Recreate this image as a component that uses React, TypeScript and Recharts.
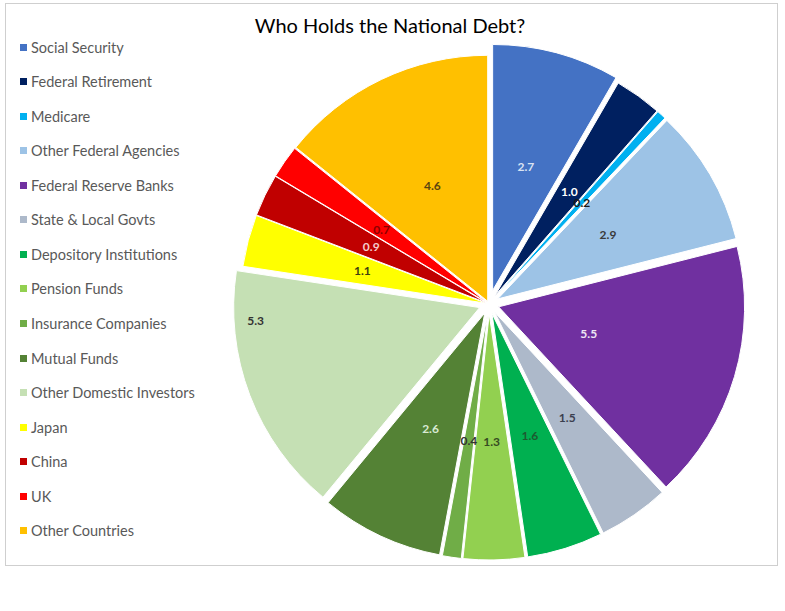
import { PieChart, Pie, Cell, Sector } from 'recharts';

const holders = [
  'Social Security',
  'Federal Retirement',
  'Medicare',
  'Other Federal Agencies',
  'Federal Reserve Banks',
  'State & Local Govts',
  'Depository Institutions',
  'Pension Funds',
  'Insurance Companies',
  'Mutual Funds',
  'Other Domestic Investors',
  'Japan',
  'China',
  'UK',
  'Other Countries',
];

// trillions of dollars
const debt = [2.7, 1.0, 0.2, 2.9, 5.5, 1.5, 1.6, 1.3, 0.4, 2.6, 5.3, 1.1, 0.9, 0.7, 4.6];

const colors = [
  '#4472C4', '#002060', '#00B0F0', '#9DC3E6', '#7030A0',
  '#ADB9CA', '#00B050', '#92D050', '#70AD47', '#548235',
  '#C5E0B4', '#FFFF00', '#C00000', '#FF0000', '#FFC000',
];

const labelColors = [
  '#dae3f3', '#ffffff', '#1a1a1a', '#3a3a3a', '#eee6f5',
  '#3b3f4f', '#1d5a30', '#364a22', '#333333', '#d9ead3',
  '#333333', '#3f3f10', '#f4cccc', '#8b0000', '#5a4510',
];

// how far each slice is pulled out of the pie, px
const explode = [14, 10, 10, 10, 10, 10, 10, 10, 10, 10, 10, 3, 3, 3, 3];

const data = holders.map((name, i) => ({ name, value: debt[i] }));

const RAD = Math.PI / 180;
const font = 'Lato, "Open Sans", sans-serif';

function ExplodedSlice(props: any) {
  const i = holders.indexOf(props.name);
  const off = explode[i] ?? 8;
  const dx = Math.cos(-props.midAngle * RAD) * off;
  const dy = Math.sin(-props.midAngle * RAD) * off;
  return (
    <Sector
      {...props}
      cx={props.cx + dx}
      cy={props.cy + dy}
      stroke="#ffffff"
      strokeWidth={1}
    />
  );
}

function renderLabel(props: any) {
  const { cx, cy, midAngle, outerRadius, name, value } = props;
  const i = holders.indexOf(name);
  let angle = midAngle;
  let r = outerRadius * 0.52 + (explode[i] ?? 8);
  // hand-placed labels in the original
  if (name === 'Federal Reserve Banks') r = 104;
  if (name === 'Other Domestic Investors') {
    angle = 184;
    r = 234;
  }
  const x = cx + Math.cos(-angle * RAD) * r;
  const y = cy + Math.sin(-angle * RAD) * r;
  return (
    <text
      x={x}
      y={y}
      fill={labelColors[i]}
      textAnchor="middle"
      dominantBaseline="central"
      fontFamily={font}
      fontSize={12}
      fontWeight={700}
    >
      {value.toFixed(1)}
    </text>
  );
}

function LegendList() {
  return (
    <div style={{ position: 'absolute', left: 0, top: 0, width: 220, height: 560 }}>
      {holders.map((name, i) => (
        <div
          key={name}
          style={{
            position: 'absolute',
            left: 20,
            top: 47 + i * 34.57 - 9,
            height: 18,
            display: 'flex',
            alignItems: 'center',
            fontFamily: font,
            fontSize: 14.5,
            color: '#595959',
            whiteSpace: 'nowrap',
          }}
        >
          <span
            style={{
              display: 'inline-block',
              width: 7,
              height: 7,
              background: colors[i],
              marginRight: 4,
            }}
          />
          {name}
        </div>
      ))}
    </div>
  );
}

export default function App() {
  return (
    <div style={{ position: 'absolute', left: 0, top: 0, width: 785, height: 611, background: '#fff' }}>
      <div
        style={{
          position: 'absolute',
          left: 0,
          top: 13,
          width: 780,
          textAlign: 'center',
          fontFamily: font,
          fontSize: 20,
          color: '#000',
        }}
      >
        Who Holds the National Debt?
      </div>
      <LegendList />
      <div style={{ position: 'absolute', left: 0, top: 0 }}>
        <PieChart width={785} height={611}>
          <Pie
            data={data}
            dataKey="value"
            nameKey="name"
            cx={484}
            cy={299}
            outerRadius={246}
            startAngle={90}
            endAngle={-270}
            stroke="#ffffff"
            strokeWidth={1}
            shape={ExplodedSlice}
            labelLine={false}
            label={renderLabel}
            isAnimationActive={false}
          >
            {data.map((d, i) => (
              <Cell key={d.name} fill={colors[i]} />
            ))}
          </Pie>
        </PieChart>
      </div>
      <div
        style={{
          position: 'absolute',
          left: 5,
          top: 3,
          width: 771,
          height: 561,
          border: '1px solid #cfcfcf',
          pointerEvents: 'none',
        }}
      />
    </div>
  );
}
